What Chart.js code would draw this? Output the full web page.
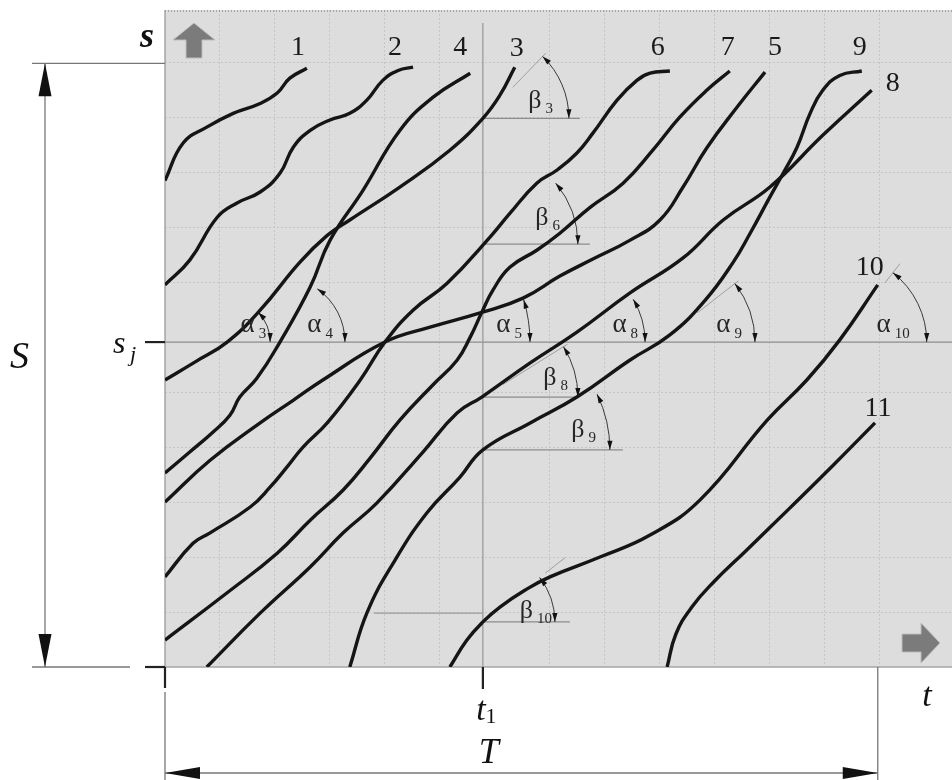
<!DOCTYPE html>
<html>
<head>
<meta charset="utf-8">
<script src="https://cdn.jsdelivr.net/npm/chart.js@4.4.1/dist/chart.umd.min.js"></script>
<style>
html, body { margin: 0; padding: 0; background: #fff; }
#wadah { width: 952px; height: 780px; }
</style>
</head>
<body>
<div id="wadah"><canvas id="grafik" width="952" height="780"></canvas></div>
<script>
/* Grafik s-t kendaraan (lintasan 1..11) */

// nilai penanda sumbu
const T1 = 5.78;      // t1
const SJ = 5.91;      // s_j
const T_END = 12.96;  // T
const S_TOP = 10.98;  // S
const T_MAX = 14.31;
const S_MAX = 11.95;

// lintasan (t dalam satuan grid, s dalam satuan grid)
const curve1T = [0, 0.33, 0.76, 1.24, 1.73, 2.04, 2.27, 2.58];
const curve1S = [8.85, 9.53, 9.82, 10.07, 10.25, 10.44, 10.71, 10.89];
const curve2T = [0, 0.45, 0.95, 1.31, 1.73, 2.09, 2.33, 2.64, 3.0, 3.36, 3.67, 3.96, 4.24, 4.51];
const curve2S = [6.95, 7.4, 8.18, 8.44, 8.64, 8.98, 9.45, 9.76, 9.95, 10.07, 10.31, 10.67, 10.85, 10.91];
const curve3T = [0, 0.55, 1.13, 1.73, 2.45, 2.95, 3.36, 4.27, 5.18, 5.78, 6.09, 6.36];
const curve3S = [5.22, 5.55, 5.91, 6.49, 7.36, 7.85, 8.13, 8.73, 9.4, 9.98, 10.4, 10.91];
const curve4T = [0, 0.45, 0.87, 1.18, 1.36, 1.67, 2.09, 2.64, 3.0, 3.6, 4.27, 4.87, 5.55];
const curve4S = [3.53, 3.91, 4.27, 4.58, 4.91, 5.25, 5.91, 6.91, 7.76, 8.67, 9.76, 10.36, 10.8];
const curve5T = [0, 0.82, 1.73, 2.33, 2.87, 4.0, 4.82, 5.76, 6.51, 7.18, 7.78, 8.45, 9.0, 9.42, 9.85, 10.4, 10.91];
const curve5S = [3.0, 3.76, 4.44, 4.85, 5.22, 5.91, 6.18, 6.45, 6.71, 7.11, 7.42, 7.76, 8.13, 8.73, 9.44, 10.18, 10.82];
const curve6T = [0, 0.51, 0.82, 1.55, 1.91, 2.22, 2.51, 2.95, 3.55, 4.0, 4.51, 5.13, 5.91, 6.27, 6.76, 7.13, 7.49, 7.78, 8.22, 8.58, 8.82, 9.18];
const curve6S = [1.64, 2.25, 2.44, 2.91, 3.27, 3.64, 4.0, 4.44, 5.22, 5.91, 6.49, 6.98, 7.82, 8.25, 8.8, 9.04, 9.35, 9.71, 10.31, 10.67, 10.8, 10.84];
const curve7T = [0, 1.13, 2.04, 2.64, 3.24, 3.73, 4.27, 4.87, 5.31, 5.55, 5.76, 5.96, 6.27, 6.76, 7.18, 7.73, 8.33, 8.87, 9.36, 9.85, 10.27];
const curve7S = [0.49, 1.35, 2.07, 2.67, 3.22, 3.8, 4.49, 5.13, 5.58, 6.0, 6.45, 6.85, 7.27, 7.58, 7.89, 8.36, 8.8, 9.4, 10.0, 10.49, 10.84];
const curve8T = [0.76, 1.73, 2.64, 3.24, 3.85, 4.69, 5.31, 5.76, 6.64, 7.49, 8.45, 9.42, 10.15, 11.0, 11.96, 12.85];
const curve8S = [0, 0.98, 1.82, 2.44, 2.98, 3.91, 4.62, 4.91, 5.53, 6.09, 6.8, 7.44, 8.13, 8.73, 9.67, 10.49];
const curve9T = [3.36, 3.67, 4.15, 4.76, 5.36, 5.78, 6.64, 7.49, 8.45, 9.18, 9.82, 10.33, 10.64, 11.0, 11.24, 11.49, 11.73, 11.96, 12.27, 12.67];
const curve9S = [0, 0.98, 1.89, 2.8, 3.45, 3.95, 4.44, 4.91, 5.58, 6.04, 6.67, 7.36, 7.89, 8.55, 8.98, 9.45, 10.07, 10.49, 10.76, 10.84];
const curve10T = [5.18, 5.49, 5.78, 6.09, 6.55, 7.0, 7.91, 8.82, 9.73, 10.95, 11.67, 12.27, 12.96];
const curve10S = [0, 0.49, 0.82, 1.09, 1.4, 1.64, 2.0, 2.4, 3.04, 4.49, 5.22, 5.95, 6.95];
const curve11T = [9.13, 9.29, 9.58, 9.98, 10.56, 11.36, 12.15, 12.91];
const curve11S = [0, 0.6, 1.09, 1.55, 2.11, 2.89, 3.67, 4.44];

// sudut alpha (di garis s_j) dan beta (di garis t1)
const alphaSub = ['3', '4', '5', '8', '9', '10'];
const alphaT = [1.13, 2.09, 4.0, 7.22, 9.0, 12.25];
const alphaDeg = [44, 55, 17, 31, 38, 52];
const betaSub = ['3', '6', '8', '9', '10'];
const betaS = [9.98, 7.69, 4.91, 3.95, 0.82];
const betaDeg = [46, 40, 32, 26, 38];

// gaya
const serif = '"Liberation Serif", "DejaVu Serif", serif';
const hitam = '#151515';
const alphaGaya = [
    { r: 43, dx: 4 }, { r: 65, dx: 12 }, { r: 145, dx: 8 },
    { r: 83, dx: 7 }, { r: 95, dx: 13, tan: [0.5, 1.05] }, { r: 88, dx: 17, tan: [0.85, 1.13] }
];
const betaGaya = [
    { r: 86, len: 97, dx: 16, dy: -10, tan: [0.5, 1.05] },
    { r: 95, len: 107, dx: 18, dy: -19 },
    { r: 95, len: 95, dx: 10, dy: -12, tan: [0.25, 1.05] },
    { r: 127, len: 140, dx: 14, dy: -13 },
    { r: 72, len: 87, dx: 3, dy: -4, tan: [1.1, 1.45] }
];

const curves = [
    { name: '1', t: curve1T, s: curve1S, lab: [-9, -21] },
    { name: '2', t: curve2T, s: curve2S, lab: [-18, -20] },
    { name: '3', t: curve3T, s: curve3S, lab: [2, -19] },
    { name: '4', t: curve4T, s: curve4S, lab: [-10, -26] },
    { name: '5', t: curve5T, s: curve5S, lab: [10, -24] },
    { name: '6', t: curve6T, s: curve6S, lab: [-12, -23] },
    { name: '7', t: curve7T, s: curve7S, lab: [-2, -23] },
    { name: '8', t: curve8T, s: curve8S, lab: [21, -7] },
    { name: '9', t: curve9T, s: curve9S, lab: [-2, -23] },
    { name: '10', t: curve10T, s: curve10S, lab: [-8, -17] },
    { name: '11', t: curve11T, s: curve11S, lab: [3, -14] }
];

function garis(ctx, x1, y1, x2, y2, warna, tebal, dash) {
    ctx.save();
    ctx.strokeStyle = warna;
    ctx.lineWidth = tebal;
    ctx.setLineDash(dash || []);
    ctx.beginPath();
    ctx.moveTo(x1, y1);
    ctx.lineTo(x2, y2);
    ctx.stroke();
    ctx.restore();
}

function mataPanah(ctx, x, y, ux, uy, pjg, lbr, warna) {
    const bx = x - ux * pjg, by = y - uy * pjg;
    ctx.save();
    ctx.fillStyle = warna || '#111';
    ctx.beginPath();
    ctx.moveTo(x, y);
    ctx.lineTo(bx - uy * lbr, by + ux * lbr);
    ctx.lineTo(bx + uy * lbr, by - ux * lbr);
    ctx.closePath();
    ctx.fill();
    ctx.restore();
}

function busur(ctx, cx, cy, r, deg) {
    const a = deg * Math.PI / 180;
    ctx.save();
    ctx.strokeStyle = '#3a3a3a';
    ctx.lineWidth = 1;
    ctx.beginPath();
    ctx.arc(cx, cy, r, -a, 0);
    ctx.stroke();
    ctx.restore();
    mataPanah(ctx, cx + r, cy, 0, 1, 9, 2.6);
    mataPanah(ctx, cx + r * Math.cos(a), cy - r * Math.sin(a), -Math.sin(a), -Math.cos(a), 9, 2.6);
}

function simbol(ctx, utama, sub, kanan, dasar, fUtama, fSub, turun) {
    ctx.font = fSub;
    const ws = ctx.measureText(sub).width;
    ctx.font = fUtama;
    const wu = ctx.measureText(utama).width;
    ctx.textAlign = 'left';
    ctx.textBaseline = 'alphabetic';
    ctx.fillText(utama, kanan - ws - 4 - wu, dasar);
    ctx.font = fSub;
    ctx.fillText(sub, kanan - ws, dasar + turun);
}

const hiasan = {
    id: 'hiasan',
    beforeDraw(chart) {
        const { ctx, chartArea: a } = chart;
        ctx.save();
        ctx.fillStyle = '#dddddd';
        ctx.fillRect(a.left, a.top, a.right - a.left, a.bottom - a.top);
        ctx.restore();
    },
    beforeDatasetsDraw(chart) {
        const { ctx, chartArea: a } = chart;
        const sx = chart.scales.x, sy = chart.scales.y;
        const xt1 = sx.getPixelForValue(T1), ysj = sy.getPixelForValue(SJ);

        // bingkai
        garis(ctx, a.left, a.top + 1, a.right, a.top + 1, '#6e6e6e', 1, [1, 2]);
        garis(ctx, a.left, a.top, a.left, a.bottom, '#9a9a9a', 1.3);
        garis(ctx, a.left, a.bottom, a.right, a.bottom, '#a5a5a5', 1.3);

        // s_j dan t1
        garis(ctx, a.left, ysj, a.right, ysj, '#8c8c8c', 1.3);
        garis(ctx, xt1, a.top + 13, xt1, a.bottom, '#9a9a9a', 1.3);
        garis(ctx, sx.getPixelForValue(3.8), sy.getPixelForValue(0.98), xt1, sy.getPixelForValue(0.98), '#9a9a9a', 1.1);

        // sudut alpha
        alphaT.forEach((t, i) => {
            const g = alphaGaya[i];
            const cx = sx.getPixelForValue(t);
            if (g.tan) {
                const a0 = alphaDeg[i] * Math.PI / 180;
                garis(ctx, cx + g.r * g.tan[0] * Math.cos(a0), ysj - g.r * g.tan[0] * Math.sin(a0),
                    cx + g.r * g.tan[1] * Math.cos(a0), ysj - g.r * g.tan[1] * Math.sin(a0), '#a0a0a0', 1);
            }
            busur(ctx, cx, ysj, g.r, alphaDeg[i]);
        });

        // sudut beta
        betaS.forEach((s, i) => {
            const g = betaGaya[i];
            const cy = sy.getPixelForValue(s);
            garis(ctx, xt1, cy, xt1 + g.len, cy, '#8c8c8c', 1.2);
            if (g.tan) {
                const b0 = betaDeg[i] * Math.PI / 180;
                garis(ctx, xt1 + g.r * g.tan[0] * Math.cos(b0), cy - g.r * g.tan[0] * Math.sin(b0),
                    xt1 + g.r * g.tan[1] * Math.cos(b0), cy - g.r * g.tan[1] * Math.sin(b0), '#a0a0a0', 1);
            }
            busur(ctx, xt1, cy, g.r, betaDeg[i]);
        });
    },
    afterDatasetsDraw(chart) {
        const { ctx, chartArea: a } = chart;
        const sx = chart.scales.x, sy = chart.scales.y;
        const xt1 = sx.getPixelForValue(T1), ysj = sy.getPixelForValue(SJ);
        const xT = sx.getPixelForValue(T_END), yS = sy.getPixelForValue(S_TOP);
        const x0 = sx.getPixelForValue(0), y0 = sy.getPixelForValue(0);

        // nomor lintasan
        ctx.save();
        ctx.fillStyle = '#1a1a1a';
        ctx.font = '28px ' + serif;
        ctx.textAlign = 'center';
        ctx.textBaseline = 'middle';
        chart.data.datasets.forEach((ds, i) => {
            const pts = chart.getDatasetMeta(i).data;
            const p = pts[pts.length - 1];
            ctx.fillText(ds.label, p.x + curves[i].lab[0], p.y + curves[i].lab[1]);
        });
        ctx.restore();

        // label sudut
        ctx.save();
        ctx.fillStyle = '#262626';
        alphaT.forEach((t, i) => {
            const g = alphaGaya[i];
            simbol(ctx, '\u03b1', alphaSub[i], sx.getPixelForValue(t) + g.r - g.dx, ysj - 10,
                '27px ' + serif, '15px ' + serif, 6);
        });
        betaS.forEach((s, i) => {
            const g = betaGaya[i];
            simbol(ctx, '\u03b2', betaSub[i], xt1 + g.r - g.dx, sy.getPixelForValue(s) + g.dy,
                '26px ' + serif, '15px ' + serif, 5);
        });
        ctx.restore();

        // ikon panah sumbu
        ctx.save();
        ctx.fillStyle = '#7b7b7b';
        ctx.strokeStyle = '#bdbdbd';
        ctx.lineWidth = 1;
        const ux = a.left + 29, uy = a.top + 13;
        ctx.beginPath();
        ctx.moveTo(ux, uy);
        ctx.lineTo(ux + 21, uy + 17);
        ctx.lineTo(ux + 8, uy + 17);
        ctx.lineTo(ux + 8, uy + 35);
        ctx.lineTo(ux - 8, uy + 35);
        ctx.lineTo(ux - 8, uy + 17);
        ctx.lineTo(ux - 21, uy + 17);
        ctx.closePath();
        ctx.fill();
        ctx.stroke();
        const rx = a.right - 12, ry = a.bottom - 24;
        ctx.beginPath();
        ctx.moveTo(rx, ry);
        ctx.lineTo(rx - 19, ry - 20);
        ctx.lineTo(rx - 19, ry - 9);
        ctx.lineTo(rx - 38, ry - 9);
        ctx.lineTo(rx - 38, ry + 9);
        ctx.lineTo(rx - 19, ry + 9);
        ctx.lineTo(rx - 19, ry + 20);
        ctx.closePath();
        ctx.fill();
        ctx.stroke();
        ctx.restore();

        // garis ukur S
        const xS = x0 - 120;
        garis(ctx, x0 - 133, yS, x0, yS, '#777', 1.3);
        garis(ctx, x0 - 133, y0, x0 - 35, y0, '#777', 1.3);
        garis(ctx, xS, yS, xS, y0, '#777', 1.3);
        mataPanah(ctx, xS, yS, 0, -1, 33, 6.5);
        mataPanah(ctx, xS, y0, 0, 1, 33, 6.5);
        garis(ctx, x0 - 20, y0, x0, y0, '#222', 2.2);
        garis(ctx, x0, y0, x0, y0 + 21, '#222', 2.2);
        garis(ctx, x0 - 20, ysj, x0, ysj, '#222', 2.2);
        garis(ctx, xt1, y0, xt1, y0 + 22, '#222', 2.2);

        // garis ukur T
        const yT = y0 + 106;
        garis(ctx, x0, y0 + 25, x0, 780, '#777', 1.3);
        garis(ctx, xT, y0, xT, 780, '#777', 1.3);
        garis(ctx, x0, yT, xT, yT, '#777', 1.3);
        mataPanah(ctx, x0, yT, -1, 0, 35, 6);
        mataPanah(ctx, xT, yT, 1, 0, 35, 6);

        // huruf sumbu
        ctx.save();
        ctx.fillStyle = '#111';
        ctx.textBaseline = 'alphabetic';
        ctx.textAlign = 'right';
        ctx.font = 'italic bold 36px ' + serif;
        ctx.fillText('s', x0 - 11, a.top + 37);
        ctx.textAlign = 'left';
        ctx.font = 'italic 38px ' + serif;
        ctx.fillText('S', 10, ysj + 26);
        ctx.font = 'italic 32px ' + serif;
        ctx.fillText('s', 113, ysj + 11);
        ctx.font = 'italic 22px ' + serif;
        ctx.fillText('j', 130, ysj + 19);
        ctx.textAlign = 'center';
        ctx.font = 'italic 34px ' + serif;
        ctx.fillText('t', a.right - 25, y0 + 39);
        ctx.fillText('t', xt1 - 2, y0 + 53);
        ctx.font = '22px ' + serif;
        ctx.fillText('1', xt1 + 8, y0 + 56);
        ctx.font = 'italic 36px ' + serif;
        ctx.fillText('T', xt1 + 6, y0 + 96);
        ctx.restore();
    }
};

const warnaGrid = (c) => {
    const v = c.tick ? c.tick.value : 0;
    if (v === 0 || v === 6 || Math.abs(v - Math.round(v)) > 0.001) return 'rgba(0,0,0,0)';
    return '#c6c6c6';
};

new Chart(document.getElementById('grafik'), {
    type: 'line',
    data: {
        datasets: curves.map(c => ({
            label: c.name,
            data: c.t.map((t, k) => ({ x: t, y: c.s[k] })),
            borderColor: hitam,
            borderWidth: 3.4,
            pointRadius: 0,
            fill: false,
            tension: 0.45
        }))
    },
    options: {
        responsive: false,
        animation: false,
        devicePixelRatio: 1,
        layout: { padding: { left: 165, top: 10, right: 0, bottom: 113 } },
        plugins: { legend: { display: false }, tooltip: { enabled: false } },
        scales: {
            x: {
                type: 'linear', min: 0, max: T_MAX,
                ticks: { display: false, stepSize: 1 },
                grid: { color: warnaGrid, drawTicks: false, lineWidth: 1 },
                border: { display: false, dash: [2, 2] }
            },
            y: {
                type: 'linear', min: 0, max: S_MAX,
                ticks: { display: false, stepSize: 1 },
                grid: { color: warnaGrid, drawTicks: false, lineWidth: 1 },
                border: { display: false, dash: [2, 2] }
            }
        }
    },
    plugins: [hiasan]
});
</script>
</body>
</html>
